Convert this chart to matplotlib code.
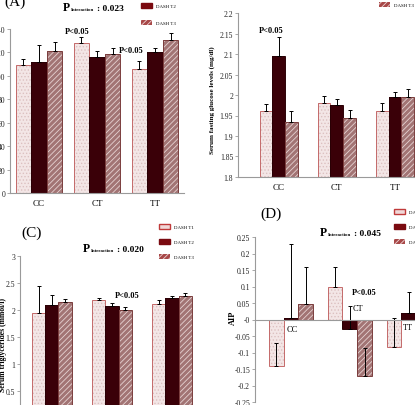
import numpy as np
import matplotlib
matplotlib.use('Agg')
import matplotlib.pyplot as plt
from matplotlib.patches import Patch

plt.rcParams['font.family'] = ['Liberation Serif', 'DejaVu Serif']
plt.rcParams['axes.unicode_minus'] = False
plt.rcParams['hatch.linewidth'] = 0.6

W, H = 415, 406

groups = ['CC', 'CT', 'TT']
series = ['DASH T1', 'DASH T2', 'DASH T3']

# (A) values
a_t1 = [109, 128, 106]
a_t2 = [112, 116, 120]
a_t3 = [121, 119, 131]
a_e1 = [5, 5, 7]
a_e2 = [14, 5, 4]
a_e3 = [8, 5, 6]

# (B) serum fasting glucose
b_t1 = [1.96, 1.98, 1.96]
b_t2 = [2.095, 1.975, 1.995]
b_t3 = [1.935, 1.945, 1.995]
b_e1 = [0.017, 0.017, 0.02]
b_e2 = [0.047, 0.015, 0.013]
b_e3 = [0.025, 0.018, 0.02]

# (C) serum triglycerides
c_t1 = [1.94, 2.18, 2.12]
c_t2 = [2.10, 2.08, 2.22]
c_t3 = [2.14, 2.00, 2.26]
c_e1 = [0.50, 0.05, 0.07]
c_e2 = [0.17, 0.05, 0.04]
c_e3 = [0.07, 0.06, 0.05]

# (D) AIP
d_t1 = [-0.14, 0.097, -0.083]
d_t2 = [0.005, -0.03, 0.02]
d_t3 = [0.048, -0.17, 0.03]
d_e1 = [0.07, 0.063, 0.088]
d_e2 = [0.225, 0.07, 0.062]
d_e3 = [0.11, 0.085, 0.05]

face = ['#f3e6e6', '#3a0008', '#a27474']
hatch = ['.....', None, '//////']
hcol = ['#dcc0c0', '#3a0008', '#e6d2d2']
edge = ['#c46a6a', '#2a0005', '#7a3c3c']

fig = plt.figure(figsize=(W / 100, H / 100), dpi=100)


def make_ax(l, t, r, b):
    return fig.add_axes([l / W, 1 - b / H, (r - l) / W, (b - t) / H])


def draw_bars(ax, vals, errs, w, base=0):
    x = np.arange(len(groups))
    for i, (v, e) in enumerate(zip(vals, errs)):
        xi = x + (i - 1) * w
        h = np.array(v) - base
        ax.bar(xi, h, w, bottom=base, color=face[i], hatch=hatch[i],
               edgecolor=hcol[i], linewidth=0)
        ax.bar(xi, h, w, bottom=base, fill=False, edgecolor=edge[i], linewidth=0.7)
        ax.errorbar(xi, v, yerr=[np.zeros(len(e)), e], fmt='none', ecolor='black',
                    elinewidth=0.7, capsize=1.5, capthick=0.7)


def style(ax, ticks, xlim):
    for s in ['top', 'right']:
        ax.spines[s].set_visible(False)
    for s in ['left', 'bottom']:
        ax.spines[s].set_color('#9a9a9a')
        ax.spines[s].set_linewidth(0.8)
    ticks = np.round(ticks, 2)
    ax.set_ylim(ticks[0], ticks[-1])
    ax.set_yticks(ticks)
    ax.set_yticklabels([f'{t:g}' for t in ticks])
    ax.set_xlim(*xlim)
    ax.set_xticks(np.arange(len(groups)), groups)
    ax.tick_params(axis='y', length=2, width=0.6, color='#9a9a9a', labelsize=5.5,
                   pad=1.5, labelcolor='#222222')
    ax.tick_params(axis='x', length=0, labelsize=6.5, pad=4)


def add_legend(ax, xpx, ypx, spacing=2.0):
    handles = [Patch(facecolor='#f0d8d8', edgecolor='#c03a3a', linewidth=1.0),
               Patch(facecolor='#7a0a10', edgecolor='#7a0a10'),
               Patch(facecolor='#a84848', edgecolor='#ecd6d6', hatch='//////', linewidth=0)]
    ax.legend(handles, series, loc='upper left', bbox_to_anchor=(xpx / W, 1 - ypx / H),
              bbox_transform=fig.transFigure, frameon=False, fontsize=3.5,
              handlelength=2.2, handleheight=1.3, labelspacing=spacing, borderpad=0,
              borderaxespad=0, handletextpad=0.8)


def ptext(x, y, s, size=6, **kw):
    fig.text(x / W, 1 - y / H, s, fontsize=size, ha='center', va='center', **kw)


def interaction(x, y, val):
    fig.text(x / W, 1 - y / H, 'P', fontsize=8.5, fontweight='bold', va='baseline')
    fig.text((x + 8) / W, 1 - y / H, 'Interaction', fontsize=3.5, fontweight='bold', va='baseline')
    fig.text((x + 34) / W, 1 - y / H, ': ' + val, fontsize=6.8, fontweight='bold', va='baseline')


# (A)
axA = make_ax(10, 30, 184, 194)
draw_bars(axA, [a_t1, a_t2, a_t3], [a_e1, a_e2, a_e3], 0.27)
style(axA, np.arange(0, 141, 20), (-0.5, 2.5))
add_legend(axA, 141, -13, spacing=2.4)
ptext(15, 2, '(A)', size=11)
interaction(63, 11, '0.023')
ptext(77, 32, 'P<0.05', fontweight='bold')
ptext(131, 51, 'P<0.05', fontweight='bold')

# (B)
axB = make_ax(238, 14, 424, 178)
draw_bars(axB, [b_t1, b_t2, b_t3], [b_e1, b_e2, b_e3], 0.22, base=1.8)
style(axB, np.arange(1.8, 2.201, 0.05), (-0.7, 2.5))
add_legend(axB, 379, -27)
ptext(271, 31, 'P<0.05', fontweight='bold')
ptext(212, 100, 'Serum fasting glucose levels (mg/dl)', size=5, rotation=90, fontweight='bold')

# (C)
axC = make_ax(20, 257, 202, 419)
draw_bars(axC, [c_t1, c_t2, c_t3], [c_e1, c_e2, c_e3], 0.22)
style(axC, np.arange(0, 3.01, 0.5), (-0.53, 2.5))
add_legend(axC, 159, 225)
ptext(32, 233, '(C)', size=11)
interaction(83, 252, '0.020')
ptext(127, 296, 'P<0.05', fontweight='bold')
ptext(3, 345, 'Serum triglycerides (mmol/l)', size=5.5, rotation=90, fontweight='bold')

# (D)
axD = make_ax(255, 238, 444, 403)
draw_bars(axD, [d_t1, d_t2, d_t3], [d_e1, d_e2, d_e3], 0.25)
style(axD, np.arange(-0.25, 0.251, 0.05), (-0.61, 2.6))
axD.spines['bottom'].set_position(('data', 0))
axD.set_xticklabels([])
axD.text(0.02, -0.03, 'CC', fontsize=6, ha='center', va='center')
axD.text(1.14, 0.036, 'CT', fontsize=6, ha='center', va='center')
axD.text(1.98, -0.022, 'TT', fontsize=6, ha='center', va='center')
add_legend(axD, 394, 210)
ptext(271, 214, '(D)', size=11)
interaction(320, 236, '0.045')
ptext(364, 293, 'P<0.05', fontweight='bold')
ptext(233, 318, 'AIP', size=6, rotation=90, fontweight='bold')

fig.savefig('out.png', dpi=100)
